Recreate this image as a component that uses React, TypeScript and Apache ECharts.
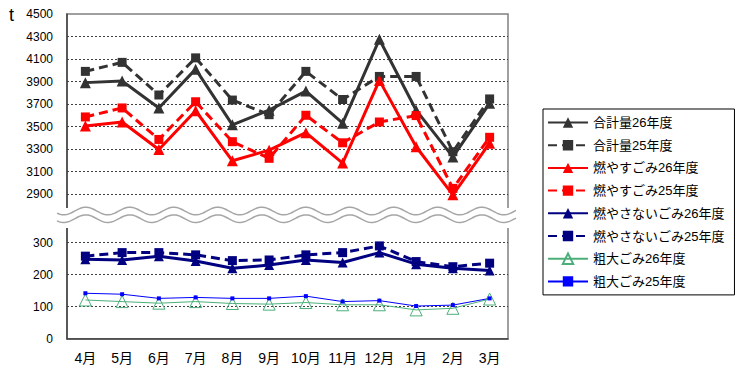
import React, { useEffect, useRef } from "react";
import * as echarts from "echarts";

const months = ["4月", "5月", "6月", "7月", "8月", "9月", "10月", "11月", "12月", "1月", "2月", "3月"];
const total26 = [3890, 3905, 3665, 4010, 3515, 3645, 3815, 3530, 4275, 3645, 3230, 3706];
const total25 = [3990, 4070, 3780, 4110, 3735, 3605, 3990, 3740, 3945, 3945, 3276, 3745];
const burn26 = [3505, 3540, 3295, 3640, 3195, 3290, 3445, 3175, 3910, 3320, 2893, 3352];
const burn25 = [3585, 3665, 3385, 3720, 3365, 3217, 3600, 3355, 3540, 3597, 2950, 3404];
const nonburn26 = [248, 246, 258, 243, 220, 230, 246, 238, 269, 233, 220, 213];
const nonburn25 = [258, 269, 269, 262, 244, 246, 262, 269, 290, 241, 225, 236];
const bulky26 = [121, 116, 111, 116, 110, 108, 113, 106, 106, 90, 95, 124];
const bulky25 = [142, 139, 126, 129, 126, 126, 133, 116, 119, 102, 105, 126];

const upperTicks = { min: 2700, max: 4500, interval: 200 };
const lowerTicks = { min: 0, max: 350, interval: 100 };

const FONT = "'Liberation Sans', 'Noto Sans CJK JP', sans-serif";

function wave(x0: number, x1: number, cy: number, amp: number, period: number) {
  const pts: number[][] = [];
  for (let x = x0; x <= x1; x += 1) {
    pts.push([x, cy + amp * Math.sin(((x - x0) / period) * Math.PI * 2 + 0.6)]);
  }
  return pts;
}

export default function App() {
  const ref = useRef<HTMLDivElement>(null);
  useEffect(() => {
    if (!ref.current) return;
    const chart = echarts.init(ref.current, null, { renderer: "svg" });
    const dash = [9, 5];
    const gridLine = { color: "#404040", type: [2, 2], width: 1 };
    const option: any = {
      animation: false,
      textStyle: { fontFamily: FONT },
      grid: [
        { left: 67, top: 14, width: 441, height: 202.5, show: true, borderColor: "#808080", borderWidth: 1.5 },
        { left: 67, top: 226.7, width: 441, height: 112, show: true, borderColor: "#808080", borderWidth: 1.5 },
      ],
      legend: {
        orient: "vertical",
        left: 543,
        top: 109,
        padding: [7, 10, 7, 4],
        itemGap: 9.7,
        itemWidth: 40,
        itemHeight: 13,
        borderColor: "#000",
        borderWidth: 1,
        selectedMode: false,
        textStyle: { fontSize: 13, color: "#000", fontFamily: FONT, padding: [1, 0, 0, 0] },
        data: [
          "合計量26年度",
          "合計量25年度",
          "燃やすごみ26年度",
          "燃やすごみ25年度",
          "燃やさないごみ26年度",
          "燃やさないごみ25年度",
          "粗大ごみ26年度",
          "粗大ごみ25年度",
        ],
      },
      xAxis: [
        { type: "category", gridIndex: 0, data: months, show: false },
        {
          type: "category",
          gridIndex: 1,
          data: months,
          axisLine: { lineStyle: { color: "#404040", width: 1.5 } },
          axisTick: { inside: true, length: 5, lineStyle: { color: "#404040" } },
          axisLabel: { interval: 0, fontSize: 14, color: "#000", margin: 12, fontFamily: FONT },
        },
      ],
      yAxis: [
        {
          type: "value",
          gridIndex: 0,
          ...upperTicks,
          axisLine: { show: true, lineStyle: { color: "#404040", width: 1.5 } },
          axisTick: { show: false },
          axisLabel: {
            fontSize: 12,
            color: "#000",
            margin: 14,
            fontFamily: FONT,
            formatter: (v: number) => (v === upperTicks.min ? "" : String(v)),
          },
          splitLine: { show: true, showMinLine: false, showMaxLine: false, lineStyle: gridLine },
        },
        {
          type: "value",
          gridIndex: 1,
          ...lowerTicks,
          axisLine: { show: true, lineStyle: { color: "#404040", width: 1.5 } },
          axisTick: { show: false },
          axisLabel: {
            fontSize: 12,
            color: "#000",
            margin: 14,
            fontFamily: FONT,
            formatter: (v: number) => (v > 300 ? "" : String(v)),
          },
          splitLine: { show: true, showMinLine: false, showMaxLine: false, lineStyle: gridLine },
        },
      ],
      series: [
        {
          name: "合計量26年度", type: "line", data: total26, xAxisIndex: 0, yAxisIndex: 0,
          symbol: "triangle", symbolSize: 11, color: "#333333",
          lineStyle: { width: 3, color: "#333333" }, itemStyle: { color: "#333333" },
        },
        {
          name: "合計量25年度", type: "line", data: total25, xAxisIndex: 0, yAxisIndex: 0,
          symbol: "rect", symbolSize: 9, color: "#333333",
          lineStyle: { width: 3, color: "#333333", type: dash }, itemStyle: { color: "#333333" },
        },
        {
          name: "燃やすごみ26年度", type: "line", data: burn26, xAxisIndex: 0, yAxisIndex: 0,
          symbol: "triangle", symbolSize: 11, color: "#ff0000",
          lineStyle: { width: 3, color: "#ff0000" }, itemStyle: { color: "#ff0000" },
        },
        {
          name: "燃やすごみ25年度", type: "line", data: burn25, xAxisIndex: 0, yAxisIndex: 0,
          symbol: "rect", symbolSize: 9, color: "#ff0000",
          lineStyle: { width: 3, color: "#ff0000", type: dash }, itemStyle: { color: "#ff0000" },
        },
        {
          name: "燃やさないごみ26年度", type: "line", data: nonburn26, xAxisIndex: 1, yAxisIndex: 1,
          symbol: "triangle", symbolSize: 10, color: "#000080",
          lineStyle: { width: 3, color: "#000080" }, itemStyle: { color: "#000080" },
        },
        {
          name: "燃やさないごみ25年度", type: "line", data: nonburn25, xAxisIndex: 1, yAxisIndex: 1,
          symbol: "rect", symbolSize: 9, color: "#000080",
          lineStyle: { width: 3, color: "#000080", type: dash }, itemStyle: { color: "#000080" },
        },
        {
          name: "粗大ごみ26年度", type: "line", data: bulky26, xAxisIndex: 1, yAxisIndex: 1,
          symbol: "triangle", symbolSize: 12, color: "#4caf7a",
          lineStyle: { width: 1, color: "#4caf7a" },
          itemStyle: { color: "transparent", borderColor: "#4caf7a", borderWidth: 1 },
        },
        {
          name: "粗大ごみ25年度", type: "line", data: bulky25, xAxisIndex: 1, yAxisIndex: 1,
          symbol: "rect", symbolSize: 4, color: "#0000ff",
          lineStyle: { width: 1, color: "#0000ff" }, itemStyle: { color: "#0000ff" },
        },
      ],
      graphic: [
        { type: "rect", z: 100, shape: { x: 55, y: 208, width: 465, height: 20 }, style: { fill: "#fff" } },
        {
          type: "polyline", z: 101,
          shape: { points: wave(57, 516, 211, 3.8, 44) },
          style: { stroke: "#a6a6a6", lineWidth: 1.5, fill: "none" },
        },
        {
          type: "polyline", z: 101,
          shape: { points: wave(57, 516, 218.7, 3.8, 44) },
          style: { stroke: "#a6a6a6", lineWidth: 1.5, fill: "none" },
        },
        {
          type: "text", z: 101, x: 9, y: 6,
          style: { text: "t", fontSize: 18, fill: "#000", fontFamily: FONT },
        },
      ],
    };
    chart.setOption(option);
    return () => chart.dispose();
  }, []);
  return <div ref={ref} style={{ width: 746, height: 384, margin: -8 }} />;
}
